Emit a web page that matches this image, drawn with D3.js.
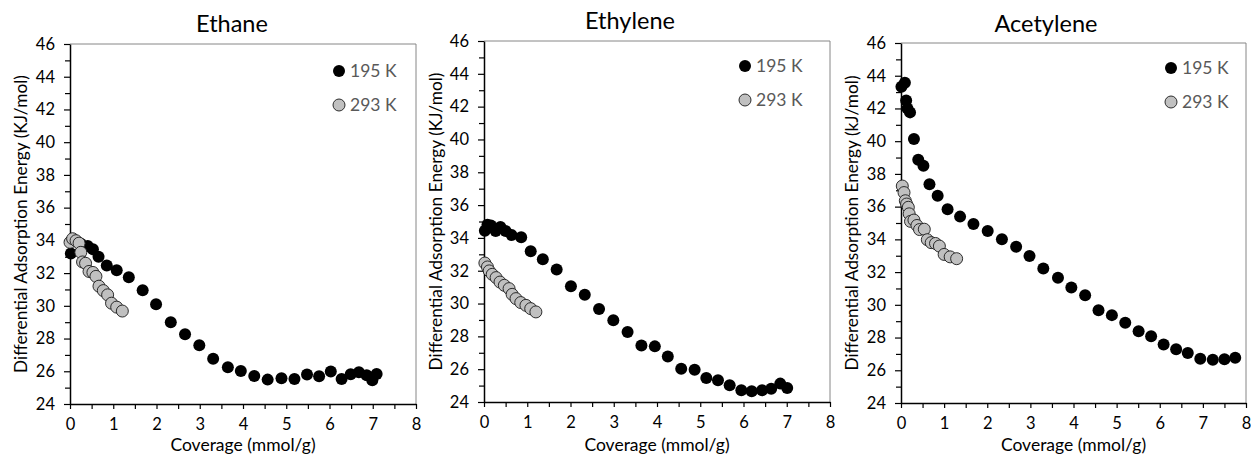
<!DOCTYPE html>
<html>
<head>
<meta charset="utf-8">
<script src="https://cdn.jsdelivr.net/npm/d3@7"></script>
<style>
  html, body { margin: 0; padding: 0; background: #fff; }
  svg { display: block; font-family: Lato, "Open Sans", sans-serif; }
</style>
</head>
<body>
<svg id="chart" width="1251" height="456"></svg>
<script>
// --- data --- \\
var gasNames = ["Ethane", "Ethylene", "Acetylene"];
var seriesLabels = ["195 K", "293 K"];
var yLabels = [
  "Differential Adsorption Energy (KJ/mol)",
  "Differential Adsorption Energy (KJ/mol)",
  "Differential Adsorption Energy (kJ/mol)"
];
var xLabel = "Coverage (mmol/g)";
var xTicks = [0, 1, 2, 3, 4, 5, 6, 7, 8];
var yTicks = [24, 26, 28, 30, 32, 34, 36, 38, 40, 42, 44, 46];

// [coverage, energy]
var ethane195 = [
  [0.02, 33.2], [0.1, 33.95], [0.25, 33.8], [0.41, 33.65], [0.53, 33.45], [0.66, 33.0],
  [0.85, 32.47], [1.08, 32.18], [1.36, 31.74], [1.68, 30.95], [1.99, 30.1],
  [2.33, 29.0], [2.66, 28.26], [2.99, 27.59], [3.31, 26.77], [3.65, 26.24],
  [3.95, 26.02], [4.26, 25.71], [4.57, 25.49], [4.89, 25.57], [5.19, 25.53],
  [5.48, 25.8], [5.76, 25.69], [6.03, 25.98], [6.28, 25.53], [6.49, 25.82],
  [6.68, 25.94], [6.86, 25.76], [6.99, 25.45], [7.09, 25.84]
];
var ethane293 = [
  [0.0, 33.88], [0.06, 34.1], [0.14, 33.98], [0.21, 33.83], [0.25, 33.27],
  [0.29, 32.68], [0.36, 32.6], [0.44, 32.1], [0.53, 32.04], [0.6, 31.8],
  [0.67, 31.2], [0.77, 30.93], [0.87, 30.67], [0.96, 30.16], [1.08, 29.92],
  [1.21, 29.68]
];
var ethylene195 = [
  [0.02, 34.44], [0.08, 34.8], [0.16, 34.75], [0.27, 34.42], [0.38, 34.67],
  [0.5, 34.42], [0.64, 34.17], [0.86, 34.04], [1.08, 33.18], [1.36, 32.7],
  [1.68, 32.08], [2.01, 31.05], [2.33, 30.54], [2.66, 29.67], [2.99, 28.98],
  [3.32, 28.27], [3.64, 27.45], [3.95, 27.39], [4.25, 26.78], [4.56, 26.03],
  [4.87, 25.97], [5.14, 25.46], [5.41, 25.32], [5.68, 25.02], [5.95, 24.71],
  [6.19, 24.65], [6.43, 24.71], [6.64, 24.81], [6.85, 25.12], [7.01, 24.85]
];
var ethylene293 = [
  [0.02, 32.47], [0.08, 32.23], [0.12, 31.99], [0.19, 31.78], [0.28, 31.58],
  [0.37, 31.31], [0.47, 31.11], [0.58, 30.91], [0.65, 30.56], [0.74, 30.3],
  [0.85, 30.06], [0.97, 29.89], [1.08, 29.69], [1.2, 29.49]
];
var acetylene195 = [
  [0.01, 43.32], [0.09, 43.57], [0.12, 42.49], [0.15, 42.0], [0.21, 41.76],
  [0.3, 40.13], [0.4, 38.86], [0.52, 38.5], [0.66, 37.37], [0.85, 36.67],
  [1.08, 35.84], [1.37, 35.39], [1.68, 34.94], [2.01, 34.51], [2.34, 34.0],
  [2.67, 33.55], [2.98, 32.98], [3.3, 32.22], [3.64, 31.65], [3.95, 31.06],
  [4.27, 30.59], [4.58, 29.67], [4.89, 29.37], [5.2, 28.9], [5.51, 28.39],
  [5.8, 28.08], [6.09, 27.57], [6.38, 27.29], [6.65, 27.06], [6.94, 26.71],
  [7.23, 26.65], [7.5, 26.67], [7.75, 26.76]
];
var acetylene293 = [
  [0.03, 37.26], [0.07, 36.86], [0.1, 36.36], [0.13, 36.16], [0.17, 35.96],
  [0.19, 35.56], [0.22, 35.1], [0.3, 35.18], [0.37, 34.85], [0.43, 34.6],
  [0.54, 34.62], [0.61, 33.98], [0.7, 33.8], [0.8, 33.75], [0.89, 33.59],
  [1.0, 33.08], [1.14, 32.93], [1.29, 32.82]
];
var series195 = [ethane195, ethylene195, acetylene195];
var series293 = [ethane293, ethylene293, acetylene293];

// --- layout --- \\
// plot boxes [left, top, right, bottom]
var boxes = [
  [70, 44, 416, 404],
  [484, 41, 830, 402],
  [901, 43, 1246, 403]
];
var titlePos = [[232, 32], [630, 29], [1046, 32]];
var yLabelX = [27, 442, 858];
var legendPos = [[339, 71], [745, 66], [1171, 68]];
var legendGap = 34;
var dotR = 6;

var svg = d3.select("#chart");

function drawPanel(i) {
  var b = boxes[i];
  var x = d3.scaleLinear().domain([0, 8]).range([b[0], b[2]]);
  var y = d3.scaleLinear().domain([24, 46]).range([b[3], b[1]]);
  var g = svg.append("g").attr("class", "panel");

  // top & right frame, thin gray
  g.append("path")
    .attr("d", "M" + b[0] + "," + b[1] + "H" + b[2] + "V" + b[3])
    .attr("fill", "none").attr("stroke", "#868686").attr("stroke-width", 1);

  // minor ticks first (no labels)
  g.append("g")
    .attr("transform", "translate(" + b[0] + ",0)")
    .call(d3.axisLeft(y).tickValues(d3.range(25, 46, 2)).tickSize(5).tickFormat(""))
    .call(function (a) { a.select(".domain").remove(); });
  g.append("g")
    .attr("transform", "translate(0," + b[3] + ")")
    .call(d3.axisBottom(x).tickValues(d3.range(0.5, 8, 1)).tickSize(5).tickFormat(""))
    .call(function (a) { a.select(".domain").remove(); });

  var ya = g.append("g")
    .attr("transform", "translate(" + b[0] + ",0)")
    .call(d3.axisLeft(y).tickValues(yTicks).tickSize(6).tickSizeOuter(0).tickPadding(9));
  var xa = g.append("g")
    .attr("transform", "translate(0," + b[3] + ")")
    .call(d3.axisBottom(x).tickValues(xTicks).tickSize(5).tickSizeOuter(0).tickPadding(9));

  g.selectAll(".tick line").attr("stroke", "#000").attr("stroke-width", 1.2);
  [ya, xa].forEach(function (a) {
    a.select(".domain").attr("stroke", "#000").attr("stroke-width", 1.5);
    a.selectAll("text").attr("font-family", "Lato, sans-serif")
      .attr("font-size", 16.5).attr("fill", "#000");
  });

  // title
  g.append("text")
    .attr("x", titlePos[i][0]).attr("y", titlePos[i][1])
    .attr("text-anchor", "middle").attr("font-size", 23.5).attr("fill", "#000")
    .text(gasNames[i]);

  // axis titles
  g.append("text")
    .attr("x", (b[0] + b[2]) / 2).attr("y", 451)
    .attr("text-anchor", "middle").attr("font-size", 17.5).attr("fill", "#000")
    .text(xLabel);
  g.append("text")
    .attr("transform", "translate(" + yLabelX[i] + "," + ((b[1] + b[3]) / 2) + ") rotate(-90)")
    .attr("text-anchor", "middle").attr("font-size", 17.3).attr("fill", "#000")
    .text(yLabels[i]);

  // points: 195 K black, 293 K gray on top
  g.append("g").selectAll("circle").data(series195[i]).join("circle")
    .attr("cx", function (d) { return x(d[0]); })
    .attr("cy", function (d) { return y(d[1]); })
    .attr("r", dotR).attr("fill", "#000");
  g.append("g").selectAll("circle").data(series293[i]).join("circle")
    .attr("cx", function (d) { return x(d[0]); })
    .attr("cy", function (d) { return y(d[1]); })
    .attr("r", dotR).attr("fill", "#c0c0c0").attr("stroke", "#1a1a1a").attr("stroke-width", 0.9);

  // legend
  var lg = g.append("g");
  seriesLabels.forEach(function (lab, k) {
    var ly = legendPos[i][1] + k * legendGap;
    lg.append("circle")
      .attr("cx", legendPos[i][0]).attr("cy", ly).attr("r", dotR)
      .attr("fill", k === 0 ? "#000" : "#c0c0c0")
      .attr("stroke", k === 0 ? "none" : "#1a1a1a").attr("stroke-width", 0.9);
    lg.append("text")
      .attr("x", legendPos[i][0] + 11).attr("y", ly + 6)
      .attr("font-size", 17.5).attr("fill", "#595959")
      .text(lab);
  });
}

for (var i = 0; i < gasNames.length; i++) drawPanel(i);
</script>
</body>
</html>
